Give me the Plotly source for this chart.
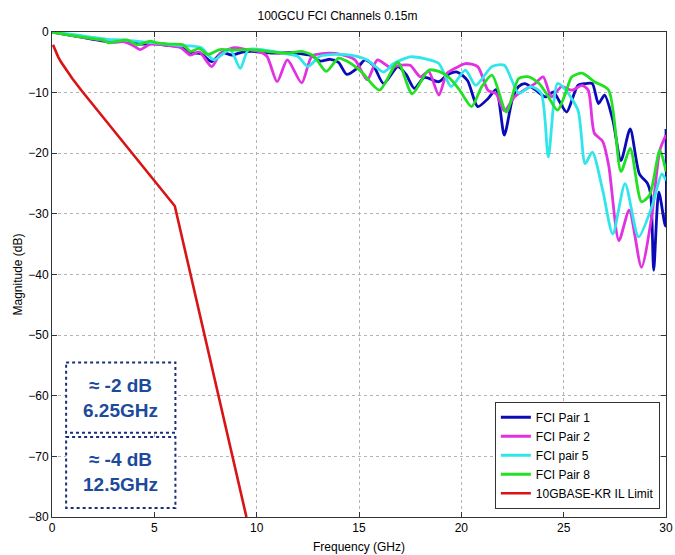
import plotly.graph_objects as go

# Insertion loss of the FCI channel pairs (frequency in GHz, magnitude in dB)
pair1_f = [0, 1, 2, 2.7, 3.2, 3.7, 4.3, 5, 5.6, 6.2, 6.8, 7.3, 7.8, 8.3, 8.8, 9.3, 9.8, 10.4, 11.0,
           11.6, 12.2, 12.7, 13.1, 13.6, 14.0, 14.4, 14.9, 15.3, 15.7, 16.2, 16.9, 17.3, 17.7, 18.2,
           18.9, 19.3, 19.8, 20.3, 20.8, 21.3, 21.7, 22.1, 22.5, 22.8, 23.1, 23.6, 24.1, 24.5, 24.8,
           25.15, 25.7, 26.1, 26.4, 26.7, 27.0, 27.4, 27.8, 28.25, 28.7, 29.1, 29.25, 29.4, 29.65,
           29.97, 30]
pair1_db = [0, -0.6, -1.2, -1.6, -1.6, -1.5, -2.0, -1.9, -2.2, -2.4, -3.4, -3.6, -4.9, -3.4, -3.8,
            -3.3, -3.2, -3.4, -3.5, -3.4, -3.6, -3.9, -4.8, -4.5, -5.0, -7.0, -6.0, -4.6, -5.5, -8.5,
            -5.7, -7.0, -9.3, -7.5, -8.2, -7.1, -6.6, -8.0, -12.3, -11.0, -9.5, -17.0, -11.0, -9.0,
            -8.5, -9.5, -10.7, -9.9, -11.5, -13.2, -8.8, -8.5, -8.5, -11.8, -10.4, -14.5, -21.2, -16.0,
            -23.4, -25.0, -26.7, -39.3, -26.4, -32.0, -16.0]

pair2_f = [0, 1, 2, 2.5, 3.0, 3.5, 4.0, 4.3, 4.8, 5.3, 5.8, 6.3, 6.76, 7.2, 7.8, 8.24, 8.9, 9.5,
           10.1, 10.5, 11.0, 11.5, 12.2, 12.7, 13.5, 14.1, 14.8, 15.4, 15.9, 16.5, 17.0, 17.5, 18.0,
           18.4, 18.9, 19.3, 19.8, 20.2, 20.8, 21.3, 21.7, 22.1, 22.6, 23.1, 23.6, 24.0, 24.4, 24.9,
           25.4, 25.9, 26.2, 26.5, 26.9, 27.2, 27.7, 28.2, 28.8, 29.3, 29.7, 30]
pair2_db = [0, -0.6, -1.1, -1.4, -1.7, -1.6, -2.3, -2.9, -2.0, -2.1, -2.3, -2.6, -3.8, -3.3, -5.7,
            -3.5, -2.6, -2.9, -3.2, -4.0, -8.2, -4.6, -8.4, -4.0, -3.5, -3.7, -4.6, -7.9, -4.6, -5.8,
            -5.5, -5.5, -7.4, -6.5, -10.4, -6.8, -5.8, -5.2, -5.7, -9.6, -10.2, -13.0, -10.7, -9.5,
            -8.5, -7.4, -10.7, -9.0, -9.6, -8.8, -9.6, -16.7, -18.0, -22.0, -34.4, -29.4, -38.8,
            -30.5, -19.5, -17.0]

pair5_f = [0, 1, 2, 2.7, 3.5, 4.3, 5.0, 5.6, 6.2, 6.8, 7.3, 7.9, 8.7, 9.2, 9.6, 10.4, 11.3, 12.0,
           12.5, 13.1, 13.9, 14.6, 15.4, 16.2, 16.7, 17.5, 18.2, 18.9, 19.5, 20.2, 20.7, 21.5, 22.1,
           22.8, 23.4, 23.9, 24.25, 24.7, 25.1, 25.7, 26.05, 26.4, 26.9, 27.4, 28.0, 28.66, 29.3,
           29.8, 30]
pair5_db = [0, -0.4, -0.9, -1.2, -1.3, -1.6, -1.8, -2.0, -2.2, -2.3, -2.6, -4.6, -2.9, -6.0, -2.9,
            -3.0, -3.5, -4.0, -5.7, -4.0, -3.7, -3.8, -4.6, -6.6, -5.2, -4.1, -4.4, -5.2, -9.0, -6.3,
            -8.8, -5.7, -5.5, -10.1, -9.0, -10.1, -20.6, -8.5, -9.6, -12.9, -21.7, -19.8, -26.0,
            -33.3, -25.0, -33.8, -28.9, -23.4, -24.5]

pair8_f = [0, 1, 2, 2.5, 2.76, 3.2, 3.66, 4.15, 4.8, 5.1, 5.7, 6.4, 6.76, 7.2, 7.6, 8.2, 8.9, 9.7,
           10.5, 11.5, 12.2, 12.8, 13.4, 14.0, 14.4, 15.1, 16.0, 16.9, 17.6, 18.4, 18.9, 19.4, 19.9,
           20.5, 21.0, 21.5, 22.2, 22.8, 23.3, 23.8, 24.2, 24.7, 25.1, 25.4, 25.9, 26.5, 27.2, 27.8,
           28.25, 28.8, 29.2, 29.7, 30]
pair8_db = [0, -0.6, -1.1, -1.3, -1.8, -1.5, -1.3, -2.1, -1.5, -1.8, -2.0, -2.1, -3.2, -2.7, -3.7,
            -2.9, -3.0, -2.9, -3.2, -3.5, -3.2, -4.0, -6.5, -4.3, -4.8, -6.5, -9.6, -5.0, -10.2,
            -6.3, -6.5, -7.5, -9.5, -12.3, -9.0, -7.1, -13.2, -7.7, -7.4, -8.5, -10.4, -12.9, -10.0,
            -7.4, -6.8, -8.2, -9.6, -23.0, -19.2, -28.0, -26.9, -19.5, -23.0]

# 10GBASE-KR insertion loss limit
limit_f = [0.05, 0.15, 0.3, 0.45, 0.65, 1.0, 1.45, 6.0, 9.5]
limit_db = [-2.1, -3.0, -4.1, -5.0, -6.0, -7.7, -9.7, -28.7, -80]

x_ticks = [0, 5, 10, 15, 20, 25, 30]
y_ticks = [0, -10, -20, -30, -40, -50, -60, -70, -80]

notes = [("≈ -2 dB<br>6.25GHz", 0.69, 6.03, -54.5, -66.1),
         ("≈ -4 dB<br>12.5GHz", 0.69, 6.03, -66.8, -78.5)]

series = [
    ("FCI Pair 1", pair1_f, pair1_db, "#0a0ab8"),
    ("FCI Pair 2", pair2_f, pair2_db, "#e032e0"),
    ("FCI pair 5", pair5_f, pair5_db, "#30e6ea"),
    ("FCI Pair 8", pair8_f, pair8_db, "#22e022"),
]

fig = go.Figure()
for name, f, db, color in series:
    fig.add_trace(go.Scatter(x=f, y=db, mode="lines", name=name,
                             line=dict(color=color, width=2.8, shape="spline", smoothing=0.7)))
fig.add_trace(go.Scatter(x=limit_f, y=limit_db, mode="lines", name="10GBASE-KR IL Limit",
                         line=dict(color="#d81414", width=2.6)))

note_color = "#1c4a9c"
for text, x0, x1, y0, y1 in notes:
    fig.add_shape(type="rect", xref="x", yref="y", x0=x0, x1=x1, y0=y0, y1=y1,
                  line=dict(color="#1a2f7a", width=2, dash="dot"), fillcolor="white", layer="above")
    fig.add_annotation(x=(x0 + x1) / 2, y=(y0 + y1) / 2, xref="x", yref="y", text=text,
                       showarrow=False, align="center",
                       font=dict(family="Arial, Liberation Sans", size=19, color=note_color,
                                 weight="bold"))

axis_common = dict(showline=True, linecolor="#333333", linewidth=1, mirror="ticks",
                   ticks="inside", ticklen=5, tickcolor="#333333", automargin=False,
                   showgrid=True, gridcolor="#b4b4b4", griddash="dot", gridwidth=1,
                   zeroline=False, tickfont=dict(size=12, color="black"))

fig.update_layout(
    width=675, height=555,
    margin=dict(l=52, r=9, t=32, b=38),
    paper_bgcolor="white", plot_bgcolor="white",
    font=dict(family="Arial, Liberation Sans", size=12, color="black"),
    title=dict(text="100GCU FCI Channels 0.15m", x=0.5, xanchor="center", y=0.98, yanchor="top",
               font=dict(size=12)),
    xaxis=dict(range=[0, 30], tickvals=x_ticks,
               title=dict(text="Frequency (GHz)", standoff=8, font=dict(size=12)), **axis_common),
    yaxis=dict(range=[-80, 0], tickvals=y_ticks,
               title=dict(text="Magnitude (dB)", standoff=3, font=dict(size=12)), **axis_common),
    legend=dict(x=0.99, y=0.017, xanchor="right", yanchor="bottom",
                bgcolor="white", bordercolor="#333333", borderwidth=1,
                font=dict(size=12), tracegroupgap=0, itemwidth=30),
    showlegend=True,
)

fig.write_html("out.html")
